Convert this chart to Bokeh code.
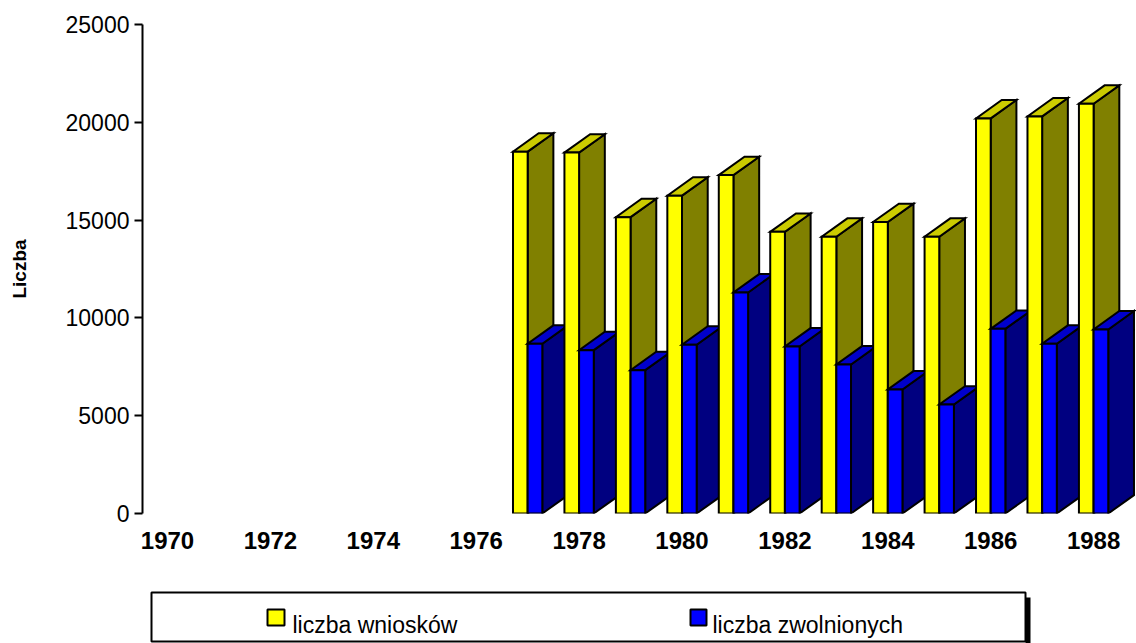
import numpy as np
from bokeh.plotting import figure
from bokeh.models import ColumnDataSource, FixedTicker, Range1d
from bokeh.layouts import column
from bokeh.embed import file_html
from bokeh.resources import INLINE
from bokeh.core.properties import value

# ---------------- data ----------------
years = [1977, 1978, 1979, 1980, 1981, 1982, 1983, 1984, 1985, 1986, 1987, 1988]
wnioski = [18500, 18450, 15150, 16250, 17300, 14400, 14150, 14900, 14150, 20200, 20300, 20950]
zwolnieni = [8680, 8350, 7330, 8630, 11300, 8540, 7620, 6340, 5570, 9440, 8680, 9410]
series_names = ["liczba wniosków", "liczba zwolnionych"]
x_ticks = [1970, 1972, 1974, 1976, 1978, 1980, 1982, 1984, 1986, 1988]
x_tick_labels = ["1970", "1972", "1974", "1976", "1978", "1980", "1982", "1984", "1986", "1988"]
y_ticks = [0, 5000, 10000, 15000, 20000, 25000]
y_label = "Liczba"

# ---------------- style ----------------
FONT = "Liberation Sans"
YELLOW = ("#FFFF00", "#CCCC00", "#808000")   # front, top, side
BLUE = ("#0000FF", "#0000CC", "#000080")
BAR_W = 0.285      # width of one bar (years)
DX = 0.5           # 3D depth offset in x (years)
DY = 940           # 3D depth offset in y (value units)
LEFT = 142         # frame left edge (px)

xs, ys, fills = [], [], []
for c, wv, zv in zip(years, wnioski, zwolnieni):
    for offset, v, cols in ((-BAR_W, wv, YELLOW), (0.0, zv, BLUE)):
        x0 = c + offset
        x1 = x0 + BAR_W
        # side face
        xs.append([x1, x1 + DX, x1 + DX, x1]); ys.append([0, DY, v + DY, v]); fills.append(cols[2])
        # top face
        xs.append([x0, x1, x1 + DX, x0 + DX]); ys.append([v, v, v + DY, v + DY]); fills.append(cols[1])
        # front face
        xs.append([x0, x1, x1, x0]); ys.append([0, 0, v, v]); fills.append(cols[0])

src = ColumnDataSource(dict(xs=xs, ys=ys, fill=fills))

p = figure(width=1136, height=578, output_backend="svg", toolbar_location=None,
           x_range=Range1d(1969.514, 1988.834), y_range=Range1d(0, 25000),
           min_border_left=LEFT, min_border_right=0, min_border_top=24, min_border_bottom=65)
p.patches("xs", "ys", source=src, fill_color="fill", line_color="black",
          line_width=2, line_join="miter")

p.grid.visible = False
p.outline_line_color = None
p.background_fill_color = "white"

# y axis
p.yaxis.ticker = FixedTicker(ticks=y_ticks)
p.yaxis.bounds = (0, 25000)
p.yaxis.minor_tick_line_color = None
p.yaxis.major_tick_in = 0
p.yaxis.major_tick_out = 8
p.yaxis.major_tick_line_width = 2
p.yaxis.axis_line_width = 2
p.yaxis.major_label_standoff = 5
p.yaxis.major_label_text_font = FONT
p.yaxis.major_label_text_font_size = "23px"
p.yaxis.major_label_text_color = "black"
p.yaxis.axis_label = y_label
p.yaxis.axis_label_text_font = FONT
p.yaxis.axis_label_text_font_size = "19px"
p.yaxis.axis_label_text_font_style = "bold"
p.yaxis.axis_label_text_color = "black"
p.yaxis.axis_label_standoff = 33

# x axis
p.xaxis.ticker = FixedTicker(ticks=x_ticks)
p.xaxis.major_label_overrides = {t: l for t, l in zip(x_ticks, x_tick_labels)}
p.xaxis.axis_line_color = None
p.xaxis.major_tick_line_color = None
p.xaxis.minor_tick_line_color = None
p.xaxis.major_tick_out = 0
p.xaxis.major_tick_in = 0
p.xaxis.major_label_standoff = 18
p.xaxis.major_label_text_font = FONT
p.xaxis.major_label_text_font_size = "24px"
p.xaxis.major_label_text_font_style = "bold"
p.xaxis.major_label_text_color = "black"

# ---------------- legend panel (page-pixel coordinates) ----------------
p2 = figure(width=1136, height=65, output_backend="svg", toolbar_location=None,
            x_range=Range1d(LEFT, 1136), y_range=Range1d(0, 65),
            x_axis_location=None, y_axis_location=None,
            min_border_left=LEFT, min_border_right=0, min_border_top=0, min_border_bottom=0)
p2.grid.visible = False
p2.outline_line_color = None
# shadow and box
p2.quad(left=[1025], right=[1030], top=[46], bottom=[-2], fill_color="black", line_color=None)
p2.quad(left=[151], right=[1025], top=[51], bottom=[2], fill_color="white",
        line_color="black", line_width=2)
# legend entries
p2.quad(left=[267, 690], right=[284, 706], top=[34, 34], bottom=[18, 18],
        fill_color=[YELLOW[0], BLUE[0]], line_color="black", line_width=2)
p2.text(x=[292, 712], y=[19, 19], text=series_names, text_font=value(FONT),
        text_font_size="23px", text_baseline="alphabetic", text_align="left",
        text_color="black")

layout = column(p, p2, spacing=0)
open("out.html", "w").write(file_html(layout, INLINE))
